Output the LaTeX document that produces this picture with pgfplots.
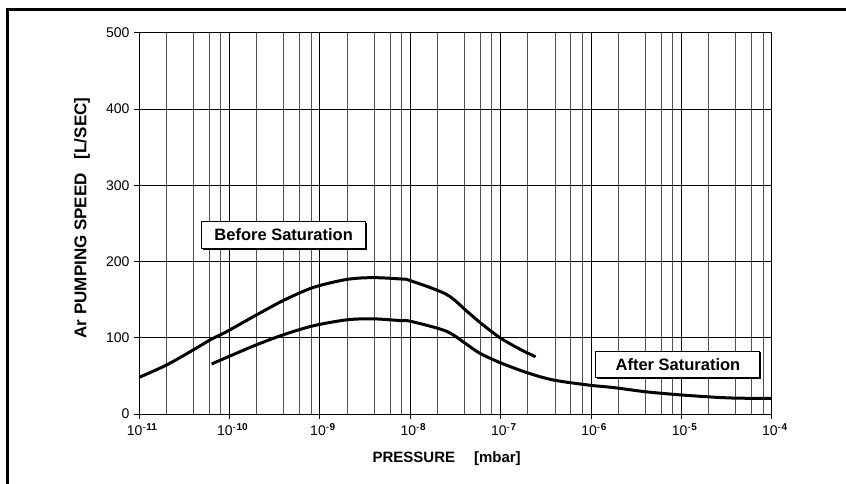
\documentclass[border=0pt]{standalone}
\usepackage{fontspec}
\setmainfont{Liberation Sans}
\usepackage{pgfplots}
\pgfplotsset{compat=1.18}
\usetikzlibrary{shadows}
\newcommand\myxlab[1]{10\raisebox{5pt}{\fontsize{10}{12}\selectfont-\hspace{0.6pt}\textbf{#1}}}

\begin{document}
\begin{tikzpicture}
\useasboundingbox (0pt,0pt) rectangle (846pt,484pt);
\draw[line width=2.7pt] (7.8pt,0pt) -- (7.8pt,474.3pt) -- (846pt,474.3pt);
\begin{axis}[
  at={(139pt,70pt)}, anchor=south west,
  scale only axis, width=632.7pt, height=381.3pt,
  xmode=log, log basis x=10,
  xmin=1e-11, xmax=1e-4, ymin=0, ymax=500,
  xtick={1e-11,1e-10,1e-9,1e-8,1e-7,1e-6,1e-5,1e-4},
  xticklabels={\myxlab{11},\myxlab{10},\myxlab{9},\myxlab{8},\myxlab{7},\myxlab{6},\myxlab{5},\myxlab{4}},
  minor xtick={2e-11,4e-11,6e-11,8e-11,2e-10,4e-10,6e-10,8e-10,2e-9,4e-9,6e-9,8e-9,2e-8,4e-8,6e-8,8e-8,2e-7,4e-7,6e-7,8e-7,2e-6,4e-6,6e-6,8e-6,2e-5,4e-5,6e-5,8e-5},
  ytick={0,100,200,300,400,500},
  yticklabels={0,100,200,300,400,500},
  grid=both,
  major grid style={black, line width=0.8pt},
  minor grid style={black!68, line width=0.8pt},
  tick align=center, major tick length=10pt, minor tick length=0pt,
  tick pos=left,
  axis line style={black, line width=0.8pt},
  tick style={black, line width=0.8pt},
  xticklabel style={font=\fontsize{14}{16}\selectfont, yshift=-1pt, xshift=3pt},
  yticklabel style={font=\fontsize{14}{16}\selectfont, xshift=-1pt},
  xlabel={PRESSURE\hspace{19pt}[mbar]},
  xlabel style={font=\fontsize{15}{17}\selectfont\bfseries, at={(axis description cs:0.4863,0)}, anchor=base, yshift=-48.7pt},
  ylabel={Ar PUMPING SPEED\hspace{14pt}[L/SEC]},
  ylabel style={font=\fontsize{17}{19}\selectfont\bfseries, at={(axis description cs:0,0.514)}, anchor=center, yshift=57pt},
]
\addplot[black, line width=3pt, smooth, tension=0.5] coordinates {
 (1e-11,48) (2.0e-11,64) (3.98e-11,84) (6.31e-11,98) (9.33e-11,108)
 (2.0e-10,130) (3.98e-10,149) (8.51e-10,166) (2.0e-9,176.5) (3.89e-9,178.8)
 (7.94e-9,177) (1e-8,175) (2.51e-8,157) (4.22e-8,135) (5.93e-8,120)
 (9.86e-8,100) (1.64e-7,85) (2.44e-7,75)
};
\addplot[black, line width=3pt, smooth, tension=0.5] coordinates {
 (6.37e-11,65.6) (1.10e-10,77.8) (2.0e-10,90.8) (3.98e-10,104) (8.51e-10,115.7)
 (2.0e-9,123.5) (3.89e-9,124.8) (7.76e-9,122.5) (1e-8,121.7) (2.51e-8,108.6)
 (4.22e-8,91.3) (5.93e-8,79.5) (9.86e-8,67.4) (1.95e-7,54.3) (3.83e-7,44.6)
 (9.75e-7,37.7) (1.77e-6,34.7) (4.13e-6,29) (9.66e-6,25.1) (2.26e-5,22.1)
 (4.09e-5,20.8) (1e-4,20.4)
};
\node[draw, fill=white, line width=0.9pt,
      drop shadow={shadow xshift=1.2pt, shadow yshift=-1.2pt, opacity=1, fill=black},
      minimum width=164pt, minimum height=26.6pt, inner sep=0pt,
      font=\fontsize{16.5}{18}\selectfont\bfseries]
  at (axis cs:3.99e-10,234.7) {Before Saturation};
\node[draw, fill=white, line width=0.9pt,
      drop shadow={shadow xshift=1.2pt, shadow yshift=-1.2pt, opacity=1, fill=black},
      minimum width=164pt, minimum height=26.6pt, inner sep=0pt,
      font=\fontsize{16.5}{18}\selectfont\bfseries]
  at (axis cs:9.18e-6,65.2) {After Saturation};
\end{axis}
\end{tikzpicture}
\end{document}
